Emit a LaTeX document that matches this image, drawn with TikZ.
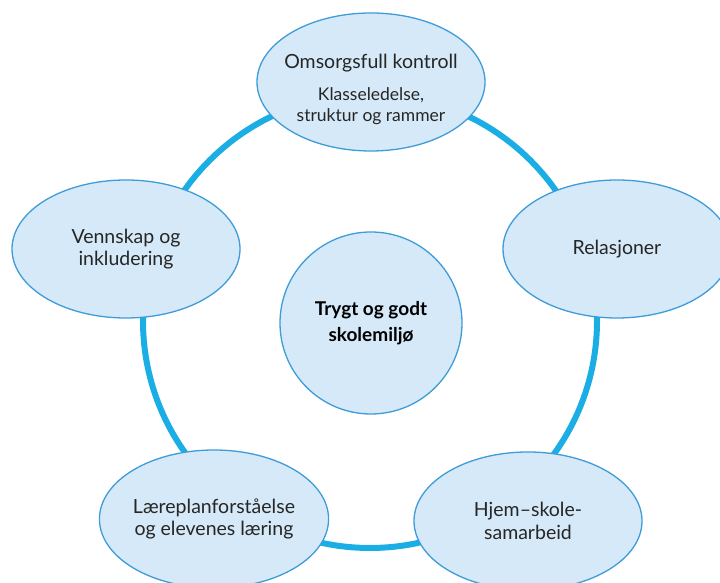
\documentclass[tikz,border=0pt]{standalone}
\usepackage{fontspec}
\setmainfont{Lato}
\usetikzlibrary{shapes.geometric}
\definecolor{ringblue}{HTML}{1AAEE5}
\definecolor{edgeblue}{HTML}{3E9CD8}
\definecolor{fillblue}{HTML}{D5E9F8}
\definecolor{txt}{HTML}{262626}
\tikzset{
  bubble/.style={ellipse, draw=edgeblue, fill=fillblue, line width=1.3pt,
    minimum width=228pt, minimum height=138pt, inner sep=0pt, align=center,
    text=txt, font=\fontsize{19.5}{22.5}\selectfont},
  lbl/.style={inner sep=0pt, align=center, text=txt},
  hub/.style={circle, draw=edgeblue, fill=fillblue, line width=1.3pt,
    minimum size=182pt, inner sep=0pt, align=center, text=black,
    font=\bfseries\fontsize{19}{26}\selectfont},
  ring/.style={draw=ringblue, line width=6pt}
}
\begin{document}
\begin{tikzpicture}[x=1pt,y=1pt]
\useasboundingbox (0,0) rectangle (720,583);
\clip (0,0) rectangle (720,583);
\coordinate (mid) at (370,262);
\draw[ring] (mid) circle[radius=227];
\node[hub] (c) at (371,260) {\raisebox{-5pt}{\begin{tabular}{@{}c@{}}Trygt og godt\\skolemiljø\end{tabular}}};
\node[bubble] (top) at (371,501) {};
\node[lbl, font=\fontsize{19.5}{22.5}\selectfont] (toptitle) at ([yshift=19pt]top.center) {Omsorgsfull kontroll};
\node[lbl, font=\fontsize{17.5}{20.5}\selectfont] (topsub) at ([yshift=-24pt]top.center) {Klasseledelse,\\struktur og rammer};
\node[bubble] (venn) at (126,334) {Vennskap og\\inkludering};
\node[bubble] (rel) at (617,334) {Relasjoner};
\node[bubble] (laer) at (214,64) {Læreplanforståelse\\og elevenes læring};
\node[bubble] (hjem) at (528,62) {Hjem–skole-\\samarbeid};
\end{tikzpicture}
\end{document}
